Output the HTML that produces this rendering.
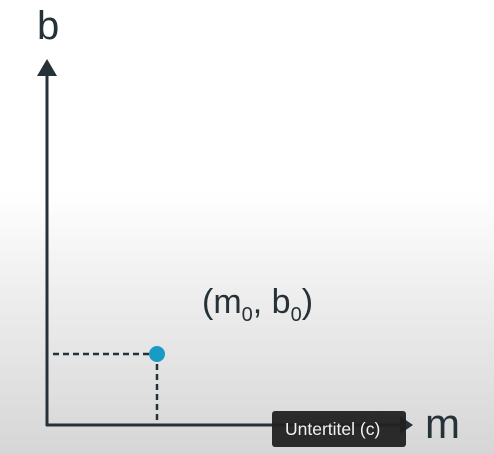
<!DOCTYPE html>
<html><head><style>
html,body{margin:0;padding:0;}
body{width:494px;height:454px;overflow:hidden;background:linear-gradient(to bottom,#fff 0px,#fff 190px,#ededed 300px,#d6d6d6 454px);font-family:"Liberation Sans",sans-serif;position:relative;}
svg{position:absolute;left:0;top:0;}
</style></head><body>
<svg width="494" height="454">
<g fill="#263238" stroke="#263238">
<line x1="47" y1="70" x2="47" y2="426" stroke-width="3"/>
<polygon points="47,59 37,76 57,76" stroke="none"/>
<line x1="46" y1="425" x2="400" y2="425" stroke-width="3"/>
<polygon points="413,425 400,416 400,434" stroke="none"/>
<line x1="53" y1="354" x2="150" y2="354" stroke-width="2.5" stroke-dasharray="6,4"/>
<line x1="157" y1="364" x2="157" y2="425" stroke-width="2.5" stroke-dasharray="6,4"/>
</g>
<circle cx="157" cy="354" r="8" fill="#1a9bc6"/>
<text x="37" y="39" font-size="40" fill="#263238" font-family="Liberation Sans,sans-serif">b</text>
<text x="425" y="438" font-size="42" fill="#263238" font-family="Liberation Sans,sans-serif">m</text>
<text x="202" y="313" font-size="34" fill="#263238" font-family="Liberation Sans,sans-serif">(m<tspan font-size="20" dy="8">0</tspan><tspan dy="-8">, b</tspan><tspan font-size="20" dy="8">0</tspan><tspan dy="-8">)</tspan></text>
<rect x="272" y="411" width="134" height="36" rx="3" fill="#212121" fill-opacity="0.95"/>
<text x="285" y="435" font-size="17.5" fill="#f2f2f2" font-family="Liberation Sans,sans-serif">Untertitel (c)</text>
</svg>
</body></html>
